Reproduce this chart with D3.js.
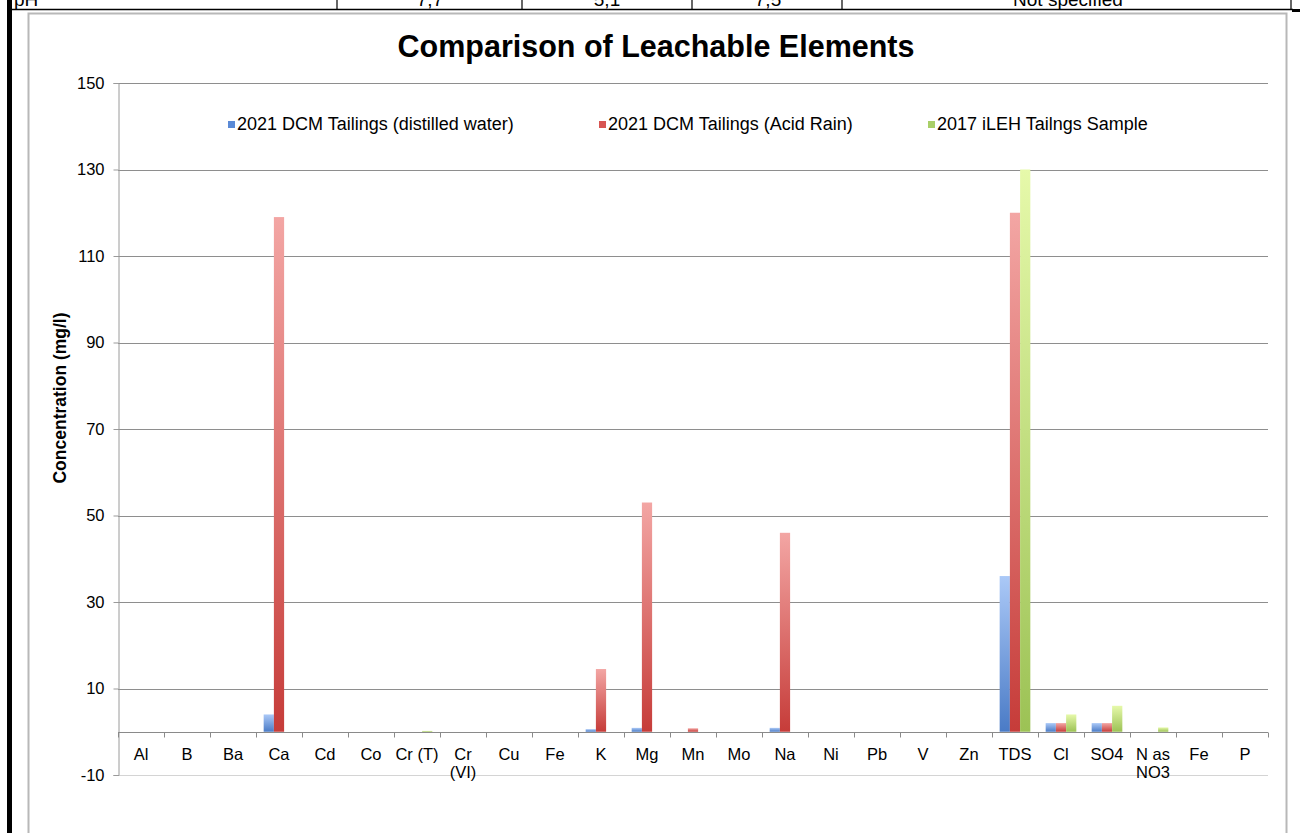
<!DOCTYPE html>
<html>
<head>
<meta charset="utf-8">
<script src="https://cdn.jsdelivr.net/npm/d3@7"></script>
<style>
  html, body { margin: 0; padding: 0; background: #fff; }
  svg { display: block; font-family: "Liberation Sans", Arial, Helvetica, sans-serif; }
</style>
</head>
<body>
<svg id="chart" width="1300" height="833"></svg>
<script>
// Leachable element concentrations (mg/l) per element
const categories = ["Al", "B", "Ba", "Ca", "Cd", "Co", "Cr (T)", "Cr (VI)", "Cu", "Fe", "K", "Mg",
  "Mn", "Mo", "Na", "Ni", "Pb", "V", "Zn", "TDS", "Cl", "SO4", "N as NO3", "Fe", "P"];
const distilledWater = [0, 0, 0, 4, 0, 0, 0, 0, 0, 0, 0.6, 0.9, 0, 0, 0.9, 0, 0, 0, 0, 36, 2, 2, 0, 0, 0];
const acidRain = [0, 0, 0, 119, 0, 0, 0, 0, 0, 0, 14.5, 53, 0.8, 0, 46, 0, 0, 0, 0, 120, 2, 2, 0, 0, 0];
const ilehSample = [0, 0, 0, 0, 0, 0, 0.2, 0, 0, 0, 0, 0, 0, 0, 0, 0, 0, 0, 0, 130, 4, 6, 1, 0, 0];
const seriesNames = ["2021 DCM Tailings (distilled water)", "2021 DCM Tailings (Acid Rain)", "2017 iLEH Tailngs Sample"];
const yTicks = [-10, 10, 30, 50, 70, 90, 110, 130, 150];
// Table row above the chart
const tableCells = ["pH", "7,7", "5,1", "7,5", "Not specified"];

const seriesValues = [distilledWater, acidRain, ilehSample];
const seriesColors = [
  { top: "#abc9f7", bottom: "#4a7bc6", key: "#5b8ad6" },
  { top: "#f3a6a4", bottom: "#c63c39", key: "#d85552" },
  { top: "#e6f9aa", bottom: "#9cc255", key: "#a9cf68" }
];

const svg = d3.select("#chart");
const defs = svg.append("defs");
seriesColors.forEach((c, i) => {
  const g = defs.append("linearGradient").attr("id", "grad" + i)
    .attr("x1", 0).attr("y1", 0).attr("x2", 0).attr("y2", 1);
  g.append("stop").attr("offset", "0%").attr("stop-color", c.top);
  g.append("stop").attr("offset", "100%").attr("stop-color", c.bottom);
});

// Document table fragment at the top
const tbl = svg.append("g");
tbl.append("rect").attr("x", 7).attr("y", 0).attr("width", 5).attr("height", 833).attr("fill", "#000");
tbl.append("line").attr("x1", 7).attr("x2", 1293).attr("y1", 9.5).attr("y2", 9.5)
  .attr("stroke", "#000").attr("stroke-width", 1.5);
tbl.append("rect").attr("x", 1292).attr("y", 9).attr("width", 8).attr("height", 3).attr("fill", "#000");
[337, 522, 692, 842, 1291].forEach(x => {
  tbl.append("line").attr("x1", x).attr("x2", x).attr("y1", 0).attr("y2", 10)
    .attr("stroke", "#000").attr("stroke-width", 1.2);
});
const cellX = [14, 430, 607, 768, 1068];
tableCells.forEach((t, i) => {
  tbl.append("text").attr("x", cellX[i]).attr("y", 6)
    .attr("text-anchor", i === 0 ? "start" : "middle")
    .attr("font-size", 19).attr("fill", "#000").text(t);
});

// Chart frame
svg.append("rect").attr("x", 28.5).attr("y", 13.5).attr("width", 1258).attr("height", 840)
  .attr("fill", "#fff").attr("stroke", "#b8b8b8").attr("stroke-width", 2);

const plot = { left: 118, right: 1268, top: 83, bottom: 775 };

const y = d3.scaleLinear().domain([-10, 150]).range([plot.bottom, plot.top]);
const x = d3.scaleBand().domain(d3.range(categories.length)).range([plot.left, plot.right]).padding(0);
const bw = x.bandwidth();
const xs = d3.scaleBand().domain([0, 1, 2]).range([bw / 6, bw * 5 / 6]).padding(0);

// Title
svg.append("text").attr("x", 656).attr("y", 57).attr("text-anchor", "middle")
  .attr("font-size", 30.5).attr("font-weight", "bold").attr("fill", "#000")
  .text("Comparison of Leachable Elements");

// Gridlines
const grid = svg.append("g");
grid.selectAll("line").data(yTicks).join("line")
  .attr("x1", plot.left).attr("x2", plot.right)
  .attr("y1", d => Math.round(y(d)) + 0.5).attr("y2", d => Math.round(y(d)) + 0.5)
  .attr("stroke", d => d === -10 ? "#d4d4d4" : "#8e8e8e").attr("stroke-width", 1);

// Y axis
const yAxis = svg.append("g").attr("transform", `translate(${plot.left + 0.5},0)`)
  .call(d3.axisLeft(y).tickValues(yTicks).tickSize(5).tickPadding(9).tickFormat(d => String(d)));
yAxis.select(".domain").attr("stroke", "#9a9a9a");
yAxis.selectAll(".tick line").attr("stroke", "#9a9a9a");
yAxis.selectAll(".tick text").attr("font-size", 16.5).attr("fill", "#000")
  .attr("font-family", "Liberation Sans, Arial, sans-serif");

svg.append("text").attr("transform", "translate(66,398) rotate(-90)")
  .attr("text-anchor", "middle").attr("font-size", 17.5).attr("font-weight", "bold")
  .attr("fill", "#000").text("Concentration (mg/l)");

// Bars
seriesValues.forEach((vals, s) => {
  svg.append("g").selectAll("rect").data(vals).join("rect")
    .attr("x", (d, i) => x(i) + xs(s))
    .attr("width", xs.bandwidth())
    .attr("y", d => y(Math.max(0, d)))
    .attr("height", d => Math.abs(y(d) - y(0)))
    .attr("fill", `url(#grad${s})`);
});

// Category axis at zero
const xAxis = svg.append("g").attr("transform", `translate(0,${Math.round(y(0)) + 0.5})`);
xAxis.append("line").attr("x1", plot.left).attr("x2", plot.right)
  .attr("stroke", "#8a8a8a");
xAxis.selectAll("line.tk").data(d3.range(categories.length + 1)).join("line").attr("class", "tk")
  .attr("x1", i => Math.round(plot.left + i * bw) + 0.5).attr("x2", i => Math.round(plot.left + i * bw) + 0.5)
  .attr("y1", 0).attr("y2", 5).attr("stroke", "#8a8a8a");

const labels = xAxis.selectAll("text").data(categories).join("text")
  .attr("text-anchor", "middle").attr("font-size", 16.5).attr("fill", "#000")
  .attr("y", 27);
// Wrap labels wider than their band onto a second line
labels.each(function (d, i) {
  const t = d3.select(this);
  const cx = x(i) + bw / 2;
  const words = d.split(" ");
  let lines = [], line = [];
  words.forEach(w => {
    const test = line.concat(w).join(" ");
    t.text(test);
    if (this.getComputedTextLength() > bw && line.length) {
      lines.push(line.join(" "));
      line = [w];
    } else {
      line.push(w);
    }
  });
  lines.push(line.join(" "));
  t.text(null);
  lines.forEach((l, k) => {
    t.append("tspan").attr("x", cx).attr("dy", k === 0 ? 0 : 18).text(l);
  });
});

// Legend
const legendX = [228, 599, 928];
seriesNames.forEach((name, i) => {
  svg.append("rect").attr("x", legendX[i]).attr("y", 121).attr("width", 7).attr("height", 7)
    .attr("fill", seriesColors[i].key);
  svg.append("text").attr("x", legendX[i] + 9).attr("y", 130)
    .attr("font-size", 18).attr("fill", "#000").text(name);
});
</script>
</body>
</html>
